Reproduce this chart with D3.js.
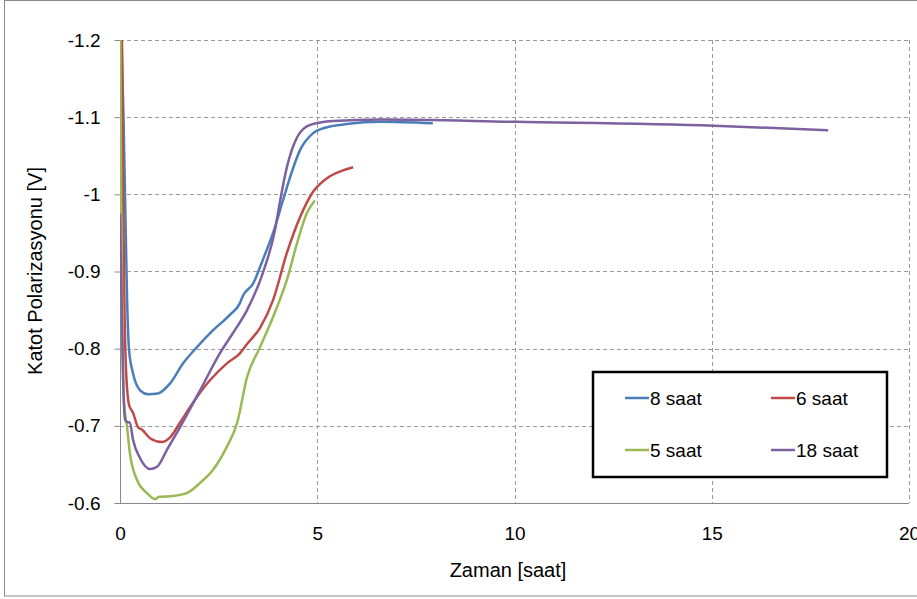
<!DOCTYPE html>
<html>
<head>
<meta charset="utf-8">
<script src="https://cdn.jsdelivr.net/npm/d3@7"></script>
<style>
  body { margin: 0; background: #fff; }
  text { font-family: "Liberation Sans", Arial, sans-serif; fill: #000; }
</style>
</head>
<body>
<svg id="chart" width="917" height="599"></svg>
<script>
// Data: [hours, volts]
var seriesNames = ["8 saat", "6 saat", "5 saat", "18 saat"];
var seriesColors = ["#4A7EBB", "#BE4B48", "#98B954", "#7D60A0"];

var saat8 = [
  [0.04, -1.2], [0.09, -1.096], [0.13, -0.992], [0.18, -0.863], [0.23, -0.798],
  [0.33, -0.768], [0.51, -0.746], [0.71, -0.741], [0.96, -0.742], [1.27, -0.755],
  [1.60, -0.781], [1.95, -0.802], [2.36, -0.824], [2.79, -0.844], [3.04, -0.859],
  [3.12, -0.869], [3.37, -0.884], [3.62, -0.915], [3.88, -0.950], [4.13, -0.992],
  [4.31, -1.022], [4.56, -1.057], [4.89, -1.079], [5.25, -1.087], [5.75, -1.091],
  [6.59, -1.094], [7.93, -1.092]
];
var saat6 = [
  [0.05, -1.2], [0.08, -0.992], [0.11, -0.863], [0.15, -0.776], [0.23, -0.727],
  [0.33, -0.717], [0.46, -0.698], [0.56, -0.695], [0.76, -0.684], [1.06, -0.679],
  [1.27, -0.685], [1.52, -0.704], [1.85, -0.730], [2.28, -0.759], [2.71, -0.781],
  [3.04, -0.794], [3.22, -0.806], [3.55, -0.827], [3.88, -0.863], [4.23, -0.924],
  [4.56, -0.970], [4.89, -1.003], [5.25, -1.021], [5.65, -1.031], [5.91, -1.035]
];
var saat5 = [
  [0.01, -1.2], [0.03, -0.992], [0.06, -0.824], [0.10, -0.733], [0.18, -0.698],
  [0.25, -0.665], [0.43, -0.630], [0.68, -0.613], [0.89, -0.605], [0.99, -0.608],
  [1.34, -0.609], [1.70, -0.613], [2.03, -0.626], [2.36, -0.643], [2.71, -0.673],
  [2.97, -0.704], [3.22, -0.763], [3.55, -0.802], [3.88, -0.841], [4.23, -0.889],
  [4.49, -0.937], [4.74, -0.976], [4.94, -0.992]
];
var saat18 = [
  [0.0, -0.975], [0.04, -0.863], [0.08, -0.759], [0.13, -0.708], [0.18, -0.705],
  [0.25, -0.704], [0.33, -0.682], [0.51, -0.658], [0.76, -0.644], [0.94, -0.647],
  [1.19, -0.669], [1.52, -0.698], [2.03, -0.746], [2.53, -0.794], [2.86, -0.820],
  [3.22, -0.850], [3.62, -0.898], [3.93, -0.954], [4.06, -0.992], [4.23, -1.035],
  [4.49, -1.074], [4.82, -1.090], [5.40, -1.095], [6.59, -1.097], [10.04, -1.094],
  [15.06, -1.089], [17.95, -1.083]
];
var xTicks = [0, 5, 10, 15, 20];
var yTicks = [-1.2, -1.1, -1, -0.9, -0.8, -0.7, -0.6];

var allSeries = [saat8, saat6, saat5, saat18];

// Layout
var plot = {left: 120, right: 909, top: 40, bottom: 503};
var svg = d3.select("#chart");

var x = d3.scaleLinear().domain([0, 20]).range([plot.left, plot.right]);
var y = d3.scaleLinear().domain([-0.6, -1.2]).range([plot.bottom, plot.top]);

// Outer chart frame
svg.append("rect")
  .attr("x", 4.5).attr("y", 0.5)
  .attr("width", 930).attr("height", 595.5)
  .attr("fill", "none").attr("stroke", "#8a8a8a");

// Gridlines
var grid = svg.append("g");
grid.selectAll("line.h").data(yTicks.filter(function(d){ return d !== -0.6; }))
  .enter().append("line")
  .attr("x1", plot.left).attr("x2", plot.right)
  .attr("y1", function(d){ return Math.round(y(d)) + 0.5; })
  .attr("y2", function(d){ return Math.round(y(d)) + 0.5; })
  .attr("stroke", "#9a9a9a").attr("stroke-dasharray", "4,3");
grid.selectAll("line.v").data(xTicks.filter(function(d){ return d !== 0; }))
  .enter().append("line")
  .attr("y1", plot.top).attr("y2", plot.bottom)
  .attr("x1", function(d){ return Math.round(x(d)) + 0.5; })
  .attr("x2", function(d){ return Math.round(x(d)) + 0.5; })
  .attr("stroke", "#9a9a9a").attr("stroke-dasharray", "4,3");

// Axes
var yAxis = d3.axisLeft(y).tickValues(yTicks).tickSize(6).tickPadding(14)
  .tickFormat(function(d){ return String(+d.toFixed(1)); });
var gy = svg.append("g").attr("transform", "translate(" + (plot.left + 0.5) + ",0)").call(yAxis);
gy.select(".domain").attr("stroke", "#888").attr("d", "M0," + plot.top + "V" + plot.bottom);
gy.selectAll(".tick line").attr("stroke", "#888");
gy.selectAll(".tick text").attr("font-size", 19).attr("font-family", "'Liberation Sans', Arial, sans-serif");

var xAxis = d3.axisBottom(x).tickValues(xTicks).tickSize(0).tickPadding(23);
var gx = svg.append("g").attr("transform", "translate(0," + (plot.bottom + 0.5) + ")").call(xAxis);
gx.select(".domain").attr("stroke", "#888").attr("d", "M" + plot.left + ",0H" + plot.right);
gx.selectAll(".tick text").attr("font-size", 19).attr("font-family", "'Liberation Sans', Arial, sans-serif");

// Axis titles
svg.append("text")
  .attr("x", 508).attr("y", 577)
  .attr("text-anchor", "middle").attr("font-size", 20)
  .text("Zaman [saat]");
svg.append("text")
  .attr("transform", "translate(42,271) rotate(-90)")
  .attr("text-anchor", "middle").attr("font-size", 20)
  .text("Katot Polarizasyonu [V]");

// Series lines
svg.append("clipPath").attr("id", "plotClip")
  .append("rect").attr("x", plot.left).attr("y", plot.top - 2)
  .attr("width", plot.right - plot.left).attr("height", plot.bottom - plot.top + 2);

var line = d3.line()
  .x(function(d){ return x(d[0]); })
  .y(function(d){ return y(d[1]); })
  .curve(d3.curveMonotoneX);

svg.append("g").attr("clip-path", "url(#plotClip)")
  .selectAll("path").data(allSeries).enter().append("path")
  .attr("d", line)
  .attr("fill", "none")
  .attr("stroke", function(d, i){ return seriesColors[i]; })
  .attr("stroke-width", 2.5)
  .attr("stroke-linejoin", "round");

// Legend
var legend = svg.append("g");
legend.append("rect")
  .attr("x", 593).attr("y", 372).attr("width", 294).attr("height", 105)
  .attr("fill", "#fff").attr("stroke", "#000").attr("stroke-width", 2.5);
var legendPos = [[625, 398], [771, 398], [625, 450], [771, 450]];
seriesNames.forEach(function(name, i){
  var p = legendPos[i];
  legend.append("line")
    .attr("x1", p[0]).attr("x2", p[0] + 24)
    .attr("y1", p[1]).attr("y2", p[1])
    .attr("stroke", seriesColors[i]).attr("stroke-width", 2.5);
  legend.append("text")
    .attr("x", p[0] + 25).attr("y", p[1] + 7)
    .attr("font-size", 19)
    .text(name);
});
</script>
</body>
</html>
